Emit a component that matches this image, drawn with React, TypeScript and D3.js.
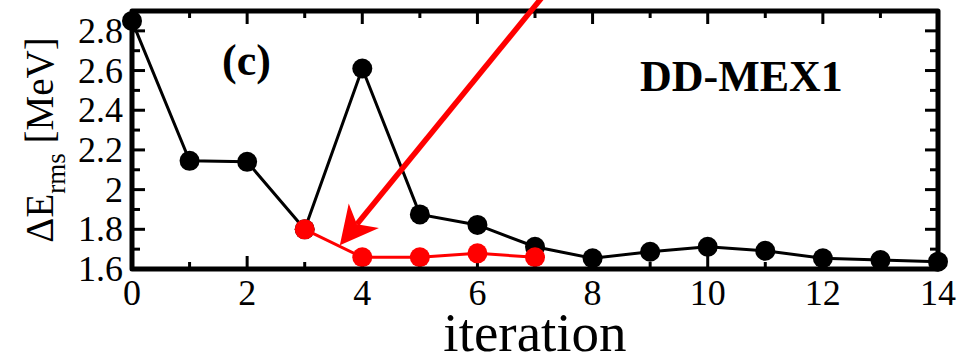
import React from "react";
import * as d3 from "d3";

// Iteration index and rms deviation (MeV)
const iterations = [0, 1, 2, 3, 4, 5, 6, 7, 8, 9, 10, 11, 12, 13, 14];
const allValues = [2.85, 2.145, 2.14, 1.8, 2.61, 1.875, 1.822, 1.712, 1.654, 1.687, 1.712, 1.692, 1.654, 1.645, 1.637];
const refinedIterations = [3, 4, 5, 6, 7];
const refinedValues = [1.8, 1.659, 1.659, 1.679, 1.659];

const xTickLabels = [0, 2, 4, 6, 8, 10, 12, 14];
const yTickLabels = [1.6, 1.8, 2, 2.2, 2.4, 2.6, 2.8];

// Arrow from outside the frame down to the refined branch
const arrowTail = { x: 7.21, y: 3.0 };
const arrowTip = { x: 3.61, y: 1.72 };

const W = 971;
const H = 361;
const left = 132;
const right = 938;
const top = 11;
const bottom = 269;
const FONT = "'Liberation Serif', 'Times New Roman', serif";

export default function App() {
  const x = d3.scaleLinear().domain([0, 14]).range([left, right]);
  const y = d3.scaleLinear().domain([1.6, 2.9]).range([bottom, top]);

  const line = d3
    .line<[number, number]>()
    .x((d) => x(d[0]))
    .y((d) => y(d[1]));

  const allPts: [number, number][] = iterations.map((it, i) => [it, allValues[i]]);
  const refPts: [number, number][] = refinedIterations.map((it, i) => [it, refinedValues[i]]);

  const xMinor = d3.range(0, 15, 1);
  const yMinor = d3.range(0, 13).map((i) => +(1.6 + i * 0.1).toFixed(2));
  const isMajorY = (v: number) => Math.abs(Math.round(v * 5) - v * 5) < 1e-6;

  // arrow geometry in pixels
  const tx = x(arrowTip.x);
  const ty = y(arrowTip.y);
  const sx = x(arrowTail.x);
  const sy = y(arrowTail.y);
  const len = Math.hypot(sx - tx, sy - ty);
  const ux = (sx - tx) / len;
  const uy = (sy - ty) / len;
  const px = -uy;
  const py = ux;
  const headLen = 38;
  const headHalf = 19.5;
  const notch = 27;
  const w1 = [tx + ux * headLen + px * headHalf, ty + uy * headLen + py * headHalf];
  const w2 = [tx + ux * headLen - px * headHalf, ty + uy * headLen - py * headHalf];
  const nb = [tx + ux * notch, ty + uy * notch];
  const headPath = `M${tx},${ty}L${w1[0]},${w1[1]}L${nb[0]},${nb[1]}L${w2[0]},${w2[1]}Z`;

  return (
    <svg
      width={W}
      height={H}
      style={{ position: "absolute", left: 0, top: 0, background: "#fff" }}
      overflow="hidden"
    >
      <rect x={0} y={0} width={W} height={H} fill="#fff" />

      {/* ticks, pointing inward on all four sides */}
      <g stroke="#000" strokeWidth={3}>
        {xMinor.map((v) => {
          const major = v % 2 === 0;
          const l = major ? 13 : 7;
          return (
            <g key={"xt" + v}>
              <line x1={x(v)} x2={x(v)} y1={bottom} y2={bottom - l} />
              <line x1={x(v)} x2={x(v)} y1={top} y2={top + l} />
            </g>
          );
        })}
        {yMinor.map((v) => {
          const l = isMajorY(v) ? 13 : 8;
          return (
            <g key={"yt" + v}>
              <line x1={left} x2={left + l} y1={y(v)} y2={y(v)} />
              <line x1={right} x2={right - l} y1={y(v)} y2={y(v)} />
            </g>
          );
        })}
      </g>

      {/* full sequence */}
      <path d={line(allPts) || ""} fill="none" stroke="#000" strokeWidth={3} />
      {allPts.map((d, i) => (
        <circle key={"a" + i} cx={x(d[0])} cy={y(d[1])} r={10} fill="#000" />
      ))}

      {/* refined sequence */}
      <path d={line(refPts) || ""} fill="none" stroke="#ff0000" strokeWidth={3} />
      {refPts.map((d, i) => (
        <circle key={"r" + i} cx={x(d[0])} cy={y(d[1])} r={10} fill="#ff0000" />
      ))}

      {/* frame */}
      <rect
        x={left}
        y={top}
        width={right - left}
        height={bottom - top}
        fill="none"
        stroke="#000"
        strokeWidth={5}
        strokeLinejoin="round"
      />

      {/* arrow */}
      <line x1={sx} y1={sy} x2={nb[0]} y2={nb[1]} stroke="#ff0000" strokeWidth={5.5} />
      <path d={headPath} fill="#ff0000" />

      {/* tick labels */}
      <g fontFamily={FONT} fontSize={36} fill="#000">
        {xTickLabels.map((v) => (
          <text key={"xl" + v} x={x(v)} y={bottom + 36} textAnchor="middle">
            {v}
          </text>
        ))}
        {yTickLabels.map((v) => (
          <text key={"yl" + v} x={123} y={y(v) + 12} textAnchor="end">
            {String(v)}
          </text>
        ))}
      </g>

      {/* axis titles */}
      <text
        x={(left + right) / 2}
        y={351}
        textAnchor="middle"
        fontFamily={FONT}
        fontSize={55}
        fill="#000"
      >
        iteration
      </text>
      <text
        transform={`translate(53, ${(top + bottom) / 2}) rotate(-90)`}
        textAnchor="middle"
        fontFamily={FONT}
        fontSize={39}
        fill="#000"
      >
        <tspan>ΔE</tspan>
        <tspan fontSize={27} dy={12}>rms</tspan>
        <tspan dy={-12}> [MeV]</tspan>
      </text>

      {/* panel annotations */}
      <text x={222} y={75} fontFamily={FONT} fontSize={44} fontWeight="bold" fill="#000">
        (c)
      </text>
      <text x={640} y={91} fontFamily={FONT} fontSize={44} fontWeight="bold" fill="#000">
        DD-MEX1
      </text>
    </svg>
  );
}
